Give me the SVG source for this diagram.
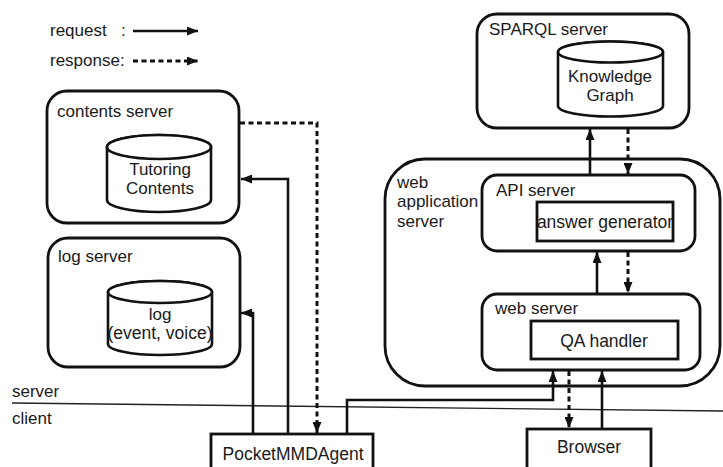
<svg xmlns="http://www.w3.org/2000/svg" width="723" height="467" viewBox="0 0 723 467">
  <style>
    text { font-family: "Liberation Sans", Arial, sans-serif; font-size: 17px; fill: #1a1a1a; }
    .mid { text-anchor: middle; }
    .big { font-size: 17.5px; }
    .box { fill: #ffffff; stroke: #111111; stroke-width: 2.8; }
    .db { fill: #ffffff; stroke: #111111; stroke-width: 2.6; }
    .req { fill: none; stroke: #111111; stroke-width: 2.6; marker-end: url(#head); }
    .res { fill: none; stroke: #111111; stroke-width: 3; stroke-dasharray: 5 3.5; marker-end: url(#head); }
  </style>
  <defs>
    <marker id="head" markerUnits="userSpaceOnUse" markerWidth="11" markerHeight="9" refX="11" refY="4.5" orient="auto">
      <path d="M0,0 L11,4.5 L0,9 Z" fill="#111111"/>
    </marker>
  </defs>
  <rect width="723" height="467" fill="#ffffff"/>

  <!-- legend -->
  <g id="legend">
    <text x="50" y="36">request</text>
    <text x="121" y="36">:</text>
    <path class="req" d="M133,31 H198"/>
    <text x="50" y="66">response:</text>
    <path class="res" d="M133,61 H198"/>
  </g>

  <!-- server / client boundary -->
  <g id="boundary">
    <line x1="12" y1="403" x2="723" y2="411" stroke="#222222" stroke-width="1.4"/>
    <text x="12" y="397">server</text>
    <text x="12" y="424">client</text>
  </g>

  <g id="contents-server">
    <rect class="box" x="47" y="91" width="192" height="132" rx="20"/>
    <text x="57" y="117">contents server</text>
    <path class="db" d="M107,147 A52,12 0 0 1 211,147 V200 A52,12 0 0 1 107,200 Z"/>
    <ellipse class="db" cx="159" cy="147" rx="52" ry="12"/>
    <text class="mid" x="160" y="175">Tutoring</text>
    <text class="mid" x="160" y="194">Contents</text>
  </g>

  <g id="log-server">
    <rect class="box" x="48" y="238" width="192" height="129" rx="20"/>
    <text x="58" y="262">log server</text>
    <path class="db" d="M108,292 A52,11 0 0 1 212,292 V344 A52,11 0 0 1 108,344 Z"/>
    <ellipse class="db" cx="160" cy="292" rx="52" ry="11"/>
    <text class="mid" x="160" y="320">log</text>
    <text class="mid big" x="160" y="339">(event, voice)</text>
  </g>

  <g id="sparql-server">
    <rect class="box" x="477" y="14" width="212" height="114" rx="20"/>
    <text x="489" y="35">SPARQL server</text>
    <path class="db" d="M558,52 A52.5,10.5 0 0 1 663,52 V106 A52.5,10.5 0 0 1 558,106 Z"/>
    <ellipse class="db" cx="610.5" cy="52" rx="52.5" ry="10.5"/>
    <text class="mid" x="610" y="82">Knowledge</text>
    <text class="mid" x="610" y="101">Graph</text>
  </g>

  <g id="web-application-server">
    <rect class="box" x="385" y="159" width="335" height="227" rx="40"/>
    <text x="397" y="188">web</text>
    <text x="397" y="207">application</text>
    <text x="397" y="227">server</text>
  </g>

  <g id="api-server">
    <rect class="box" x="482" y="175" width="213" height="76" rx="15"/>
    <text x="496" y="196">API server</text>
    <rect class="box" x="537" y="202" width="136" height="39"/>
    <text class="mid big" x="605" y="228">answer generator</text>
  </g>

  <g id="web-server">
    <rect class="box" x="482" y="294" width="218" height="76" rx="15"/>
    <text x="495" y="314">web server</text>
    <rect class="box" x="531" y="321" width="147" height="38"/>
    <text class="mid big" x="604" y="347">QA handler</text>
  </g>

  <g id="pocketmmdagent">
    <rect class="box" x="211" y="434" width="162" height="40"/>
    <text class="mid big" x="293" y="460">PocketMMDAgent</text>
  </g>

  <g id="browser">
    <rect class="box" x="527" y="429" width="124" height="40"/>
    <text class="mid big" x="589" y="453">Browser</text>
  </g>

  <!-- connectors -->
  <g id="connectors">
    <path class="req" d="M253,434 V313 H241"/>
    <path class="req" d="M288,434 V179 H241"/>
    <path class="res" d="M240,123 H317 V433"/>
    <path class="req" d="M347,434 V400 H553 V371"/>
    <path class="req" d="M602,429 V371"/>
    <path class="res" d="M569,371 V428"/>
    <path class="req" d="M597,294 V252"/>
    <path class="res" d="M628,252 V293"/>
    <path class="req" d="M590,175 V129"/>
    <path class="res" d="M628,129 V174"/>
  </g>
</svg>
